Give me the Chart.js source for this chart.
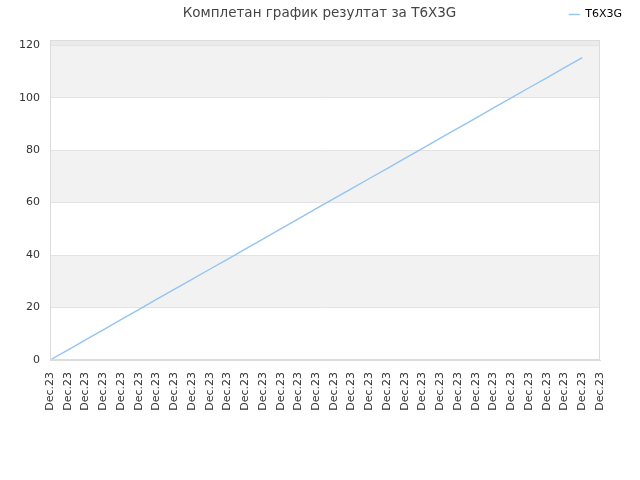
<!DOCTYPE html>
<html>
<head>
<meta charset="utf-8">
<script src="https://cdn.jsdelivr.net/npm/chart.js@4/dist/chart.umd.min.js"></script>
<style>
html,body{margin:0;padding:0;background:#fff;}
#wrap{width:640px;height:480px;}
</style>
</head>
<body>
<div id="wrap"><canvas id="c" width="640" height="480"></canvas></div>
<script>
const titleText = "Комплетан график резултат за T6X3G";
const seriesName = "T6X3G";
const categories = ["Dec.23","Dec.23","Dec.23","Dec.23","Dec.23","Dec.23","Dec.23","Dec.23",
  "Dec.23","Dec.23","Dec.23","Dec.23","Dec.23","Dec.23","Dec.23","Dec.23",
  "Dec.23","Dec.23","Dec.23","Dec.23","Dec.23","Dec.23","Dec.23","Dec.23",
  "Dec.23","Dec.23","Dec.23","Dec.23","Dec.23","Dec.23","Dec.23","Dec.23"];
const values = [0, 3.8, 7.7, 11.5, 15.4, 19.2, 23.1, 26.9, 30.7, 34.6, 38.4, 42.3, 46.1, 50.0, 53.8, 57.7,
  61.5, 65.3, 69.2, 73.0, 76.9, 80.7, 84.6, 88.4, 92.2, 96.1, 99.9, 103.8, 107.6, 111.5, 115.3, null];
const yTicks = [0, 20, 40, 60, 80, 100, 120];
const yMax = 122;
const bands = [[20, 40], [60, 80], [100, 120]];

const bandPlugin = {
  id: 'bands',
  beforeDraw(chart) {
    const {ctx, chartArea: a, scales: {y}} = chart;
    ctx.save();
    ctx.fillStyle = '#f2f2f2';
    bands.forEach(([lo, hi]) => {
      const t = y.getPixelForValue(hi), b = y.getPixelForValue(lo);
      ctx.fillRect(a.left, t, a.right - a.left, b - t);
    });
    ctx.fillStyle = '#ebebeb';
    const t2 = y.getPixelForValue(yMax), b2 = y.getPixelForValue(120);
    ctx.fillRect(a.left, t2, a.right - a.left, b2 - t2);
    ctx.restore();
  }
};

const chart = new Chart(document.getElementById('c'), {
  type: 'line',
  data: {
    labels: categories,
    datasets: [{
      label: seriesName,
      data: values,
      borderColor: '#94c4f4',
      backgroundColor: '#94c4f4',
      borderWidth: 1.4,
      pointRadius: 0,
      fill: false,
      tension: 0
    }]
  },
  options: {
    responsive: false,
    animation: false,
    devicePixelRatio: 1,
    layout: {padding: {left: 8, right: 9, top: 0, bottom: 0}},
    plugins: {
      title: {
        display: true,
        text: titleText,
        color: '#444',
        font: {family: 'DejaVu Sans', size: 13.5, weight: 'normal'},
        padding: {top: 5, bottom: -21.2}
      },
      legend: {
        display: true,
        position: 'top',
        align: 'end',
        labels: {
          usePointStyle: true,
          pointStyle: 'line',
          pointStyleWidth: 11,
          boxWidth: 11,
          padding: 9,
          color: '#000',
          font: {family: 'DejaVu Sans', size: 11}
        }
      },
      tooltip: {enabled: false}
    },
    scales: {
      x: {
        offset: false,
        grid: {display: false, drawTicks: false},
        border: {display: true, color: '#dcdcdc'},
        ticks: {
          autoSkip: false, maxRotation: 90, minRotation: 90,
          color: '#333', padding: 12,
          font: {family: 'DejaVu Sans', size: 11}
        },
        afterFit(s) { s.height = 120; }
      },
      xTop: {
        position: 'top',
        type: 'category',
        labels: [],
        grid: {display: false, drawTicks: false},
        border: {display: false},
        ticks: {display: false},
        afterFit(s) { s.height = 10; }
      },
      y: {
        min: 0, max: yMax,
        grid: {color: '#e3e3e3', drawTicks: false},
        border: {display: true, color: '#dcdcdc'},
        ticks: {color: '#333', padding: 10, font: {family: 'DejaVu Sans', size: 11}},
        afterBuildTicks(s) { s.ticks = yTicks.map(v => ({value: v})); },
        afterFit(s) { s.width = 42; }
      },
      yRight: {
        position: 'right',
        type: 'linear',
        grid: {display: false, drawTicks: false},
        border: {display: false},
        ticks: {display: false},
        afterFit(s) { s.width = 31; }
      }
    }
  },
  plugins: [bandPlugin, {
    id: 'frame',
    afterDraw(chart) {
      const {ctx, chartArea: a} = chart;
      ctx.save();
      ctx.strokeStyle = '#dcdcdc';
      ctx.lineWidth = 1;
      ctx.strokeRect(a.left + 0.5, a.top + 0.5, a.right - a.left - 1, a.bottom - a.top - 1);
      ctx.restore();
    }
  }]
});
</script>
</body>
</html>
